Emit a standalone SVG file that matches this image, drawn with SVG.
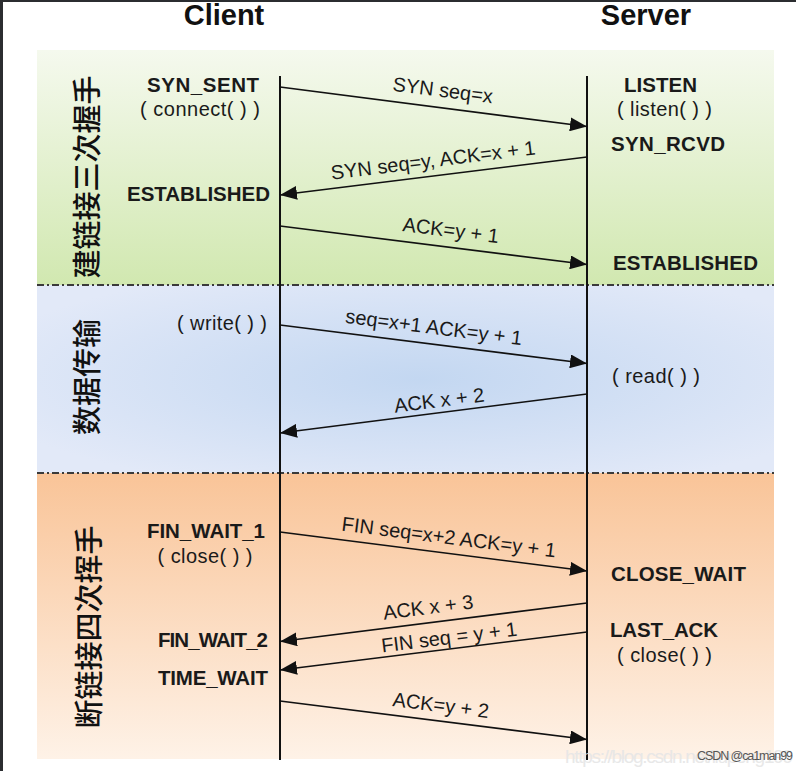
<svg xmlns="http://www.w3.org/2000/svg" width="796" height="771" viewBox="0 0 796 771">
<defs>
<linearGradient id="gGreen" x1="0" y1="0" x2="0" y2="1">
<stop offset="0" stop-color="#f5f9ee"/>
<stop offset="1" stop-color="#d1e8b0"/>
</linearGradient>
<radialGradient id="gBlue" cx="0.52" cy="0.5" r="0.62">
<stop offset="0" stop-color="#c3d7f1"/>
<stop offset="1" stop-color="#e2e9f8"/>
</radialGradient>
<linearGradient id="gOrange" x1="0" y1="0" x2="0" y2="1">
<stop offset="0" stop-color="#f9c498"/>
<stop offset="1" stop-color="#fef2e7"/>
</linearGradient>
<marker id="ah" markerUnits="userSpaceOnUse" markerWidth="18" markerHeight="14" refX="17" refY="7" orient="auto">
<path d="M0,0 L17,7 L0,14 z" fill="#111"/>
</marker>
<style>
.title{font-family:"Liberation Sans",Arial,sans-serif;font-weight:bold;font-size:29px;fill:#111;text-anchor:middle}
.st{font-family:"Liberation Sans",Arial,sans-serif;font-weight:bold;font-size:20.5px;fill:#1a1a1a}
.sub{font-family:"Liberation Sans",Arial,sans-serif;font-size:20px;fill:#1a1a1a}
.msg{font-family:"Liberation Sans",Arial,sans-serif;font-size:20px;fill:#1a1a1a;text-anchor:middle}
.cjk{font-family:"Noto Sans CJK SC","Noto Sans CJK JP",sans-serif;font-size:29px;font-weight:500;fill:#111;text-anchor:middle;dominant-baseline:central}
.life{stroke:#111;stroke-width:2}
.arr{stroke:#111;stroke-width:1.6;fill:none;marker-end:url(#ah)}
.div{stroke:#3a3a3a;stroke-width:2;stroke-dasharray:7 3 2 3}
</style>
</defs>
<rect width="796" height="771" fill="#ffffff"/>
<rect x="0" y="0" width="3" height="771" fill="#2b2d30"/>
<rect x="0" y="0" width="796" height="2" fill="#2b2d30"/>

<g id="bands">
<rect x="37" y="50" width="737" height="235" fill="url(#gGreen)"/>
<rect x="37" y="285" width="737" height="188" fill="url(#gBlue)"/>
<rect x="37" y="473" width="737" height="286" fill="url(#gOrange)"/>
<line class="div" x1="37" y1="285" x2="774" y2="285"/>
<line class="div" x1="37" y1="473" x2="774" y2="473"/>
</g>

<g id="phase-labels">
<text class="cjk" transform="translate(85,177) rotate(-90)">建链接三次握手</text>
<text class="cjk" transform="translate(85,377) rotate(-90)">数据传输</text>
<text class="cjk" transform="translate(87,627) rotate(-90)">断链接四次挥手</text>
</g>

<g id="client">
<text class="title" x="224" y="25">Client</text>
<line class="life" x1="280" y1="76" x2="280" y2="760"/>
</g>
<g id="server">
<text class="title" x="646" y="25">Server</text>
<line class="life" x1="587" y1="76" x2="587" y2="760"/>
</g>

<g id="client-states">
<text class="st" x="203" y="92" text-anchor="middle" textLength="112">SYN_SENT</text>
<text class="sub" x="200" y="116" text-anchor="middle" textLength="120">( connect( ) )</text>
<text class="st" x="270" y="201" text-anchor="end" textLength="143">ESTABLISHED</text>
<text class="sub" x="267" y="330" text-anchor="end" textLength="90">( write( ) )</text>
<text class="st" x="206" y="538" text-anchor="middle" textLength="118">FIN_WAIT_1</text>
<text class="sub" x="205" y="563" text-anchor="middle" textLength="95">( close( ) )</text>
<text class="st" x="268" y="647" text-anchor="end" textLength="110">FIN_WAIT_2</text>
<text class="st" x="268" y="685" text-anchor="end" textLength="110">TIME_WAIT</text>
</g>

<g id="server-states">
<text class="st" x="624" y="92" textLength="73">LISTEN</text>
<text class="sub" x="617" y="116" textLength="95">( listen( ) )</text>
<text class="st" x="611" y="151" textLength="114">SYN_RCVD</text>
<text class="st" x="613" y="270" textLength="145">ESTABLISHED</text>
<text class="sub" x="612" y="383" textLength="88">( read( ) )</text>
<text class="st" x="611" y="581" textLength="135">CLOSE_WAIT</text>
<text class="st" x="610" y="637" textLength="108">LAST_ACK</text>
<text class="sub" x="617" y="662" textLength="95">( close( ) )</text>
</g>

<g id="connectors">
<line class="arr" x1="280" y1="87" x2="587" y2="126.5"/>
<line class="arr" x1="587" y1="157" x2="280" y2="195"/>
<line class="arr" x1="280" y1="226" x2="587" y2="264.5"/>
<line class="arr" x1="280" y1="325" x2="587" y2="363.5"/>
<line class="arr" x1="587" y1="394" x2="280" y2="433"/>
<line class="arr" x1="280" y1="532" x2="587" y2="571"/>
<line class="arr" x1="587" y1="603" x2="280" y2="641.5"/>
<line class="arr" x1="587" y1="632" x2="280" y2="670"/>
<line class="arr" x1="280" y1="701" x2="587" y2="739.5"/>
</g>

<g id="connector-labels">
<text class="msg" x="442" y="97" transform="rotate(7.2 442 97)">SYN seq=x</text>
<text class="msg" x="434" y="167" transform="rotate(-7.1 434 167)">SYN seq=y, ACK=x + 1</text>
<text class="msg" x="450" y="237" transform="rotate(7.2 450 237)">ACK=y + 1</text>
<text class="msg" x="433" y="334" transform="rotate(7.2 433 334)">seq=x+1 ACK=y + 1</text>
<text class="msg" x="440" y="407" transform="rotate(-7.2 440 407)">ACK x + 2</text>
<text class="msg" x="448" y="544" transform="rotate(7.2 448 544)">FIN seq=x+2 ACK=y + 1</text>
<text class="msg" x="429" y="614" transform="rotate(-7.2 429 614)">ACK x + 3</text>
<text class="msg" x="450" y="644" transform="rotate(-7.1 450 644)">FIN seq = y + 1</text>
<text class="msg" x="440" y="712" transform="rotate(7.2 440 712)">ACK=y + 2</text>
</g>

<g id="watermark">
<text x="565" y="763" font-family="'Liberation Sans',Arial,sans-serif" font-size="19" fill="#e6e6e6" opacity="0.9" textLength="228">https://blog.csdn.net/liupeng199</text>
<text x="697" y="760" font-family="'Liberation Sans',Arial,sans-serif" font-size="12.5" fill="#555" textLength="96">CSDN @ca1man99</text>
</g>
</svg>
